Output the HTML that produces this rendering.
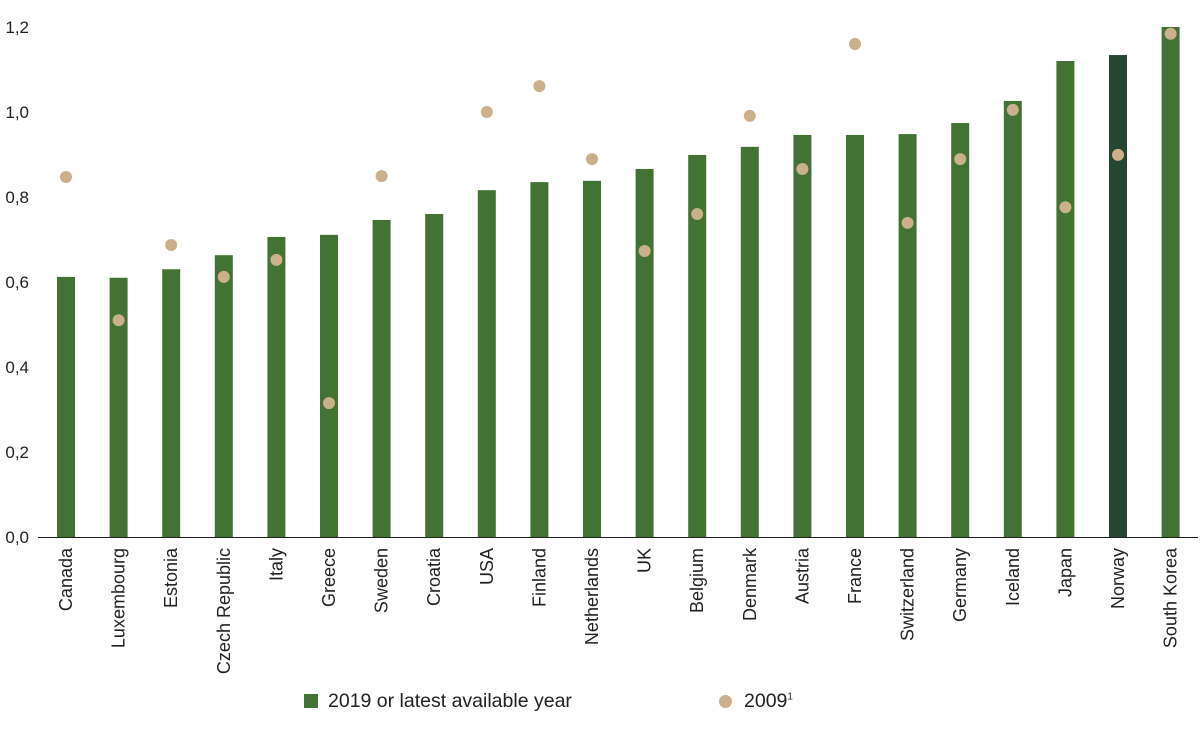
<!DOCTYPE html>
<html><head><meta charset="utf-8"><style>
body{margin:0;background:#fff;}
svg{display:block;font-family:"Liberation Sans",sans-serif;}
</style></head><body>
<svg id="chart" width="1200" height="730"></svg>
<script>
const categories=["Canada","Luxembourg","Estonia","Czech Republic","Italy","Greece","Sweden","Croatia","USA","Finland","Netherlands","UK","Belgium","Denmark","Austria","France","Switzerland","Germany","Iceland","Japan","Norway","South Korea"];
const values2019=[0.612,0.61,0.63,0.663,0.706,0.711,0.746,0.76,0.816,0.835,0.838,0.866,0.899,0.918,0.946,0.946,0.948,0.974,1.026,1.12,1.134,1.2];
const values2009=[0.847,0.51,0.687,0.612,0.652,0.315,0.849,null,1.0,1.061,0.889,0.673,0.76,0.991,0.866,1.16,0.739,0.889,1.005,0.776,0.899,1.184];
const yTicks=["0,0","0,2","0,4","0,6","0,8","1,0","1,2"];
const yTickValues=[0,0.2,0.4,0.6,0.8,1.0,1.2];
const NS="http://www.w3.org/2000/svg";
const svg=document.getElementById('chart');
const y=v=>537-v*425;
const x=i=>66+i*52.6;
function mk(t,a){const e=document.createElementNS(NS,t);for(const k in a)e.setAttribute(k,a[k]);svg.appendChild(e);return e;}
yTickValues.forEach((v,i)=>{
  const t=mk('text',{x:29,y:y(v)+6,'text-anchor':'end','font-size':17,fill:'#222'});
  t.textContent=yTicks[i];
  
  
});
const ax=mk('line',{x1:38,x2:1198,y1:537.5,y2:537.5,stroke:'#222','stroke-width':1});


categories.forEach((c,i)=>{
  const b=mk('rect',{x:x(i)-9,y:y(values2019[i]),width:18,height:537-y(values2019[i]),fill:c==="Norway"?'#254630':'#437334'});
  
  
  if(values2009[i]!==null){
    const d=mk('circle',{cx:x(i),cy:y(values2009[i]),r:6,fill:'#cbb08b'});
    
    
  }
  const t=mk('text',{transform:`translate(${x(i)+6},548) rotate(-90)`,'text-anchor':'end','font-size':18,fill:'#222'});
  t.textContent=c;
  
  
});
</script>
<div style="position:absolute;left:0;top:0;width:1200px;height:730px;pointer-events:none;font-family:'Liberation Sans',sans-serif;font-size:19.5px;color:#222">
<div style="position:absolute;left:304px;top:690px;">
<span style="display:inline-block;width:14px;height:14px;background:#437334;vertical-align:-1px;margin-right:10px"></span>2019 or latest available year</div>
<div style="position:absolute;left:719px;top:690px;">
<span style="display:inline-block;width:13px;height:13px;border-radius:50%;background:#cbb08b;vertical-align:-1px;margin-right:12px"></span>2009<sup style="font-size:10px">1</sup></div>
</div>
</body></html>
